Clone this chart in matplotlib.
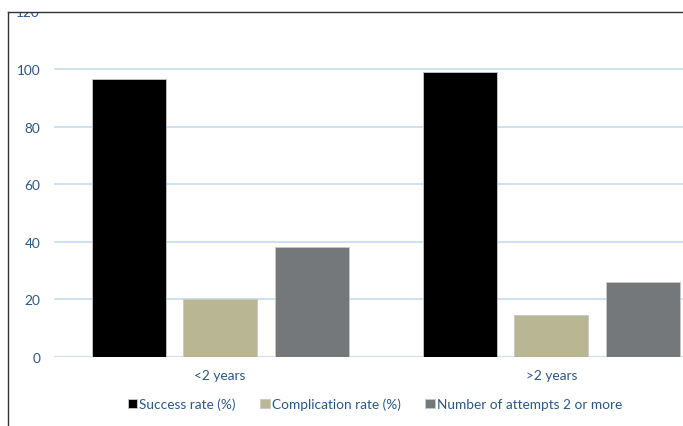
import matplotlib.pyplot as plt
import numpy as np
from matplotlib.patches import Rectangle

plt.rcParams['font.family'] = ['Lato', 'DejaVu Sans']

categories = ['<2 years', '>2 years']
series = ['Success rate (%)', 'Complication rate (%)', 'Number of attempts 2 or more']
success = [96.5, 99]
complication = [20, 14.6]
attempts = [38.2, 26]
colors = ['#000000', '#B9B693', '#75787B']
text_col = '#2B5788'

W, H = 683, 427
fig = plt.figure(figsize=(W / 100, H / 100), dpi=100)
ax = fig.add_axes([54 / W, 1 - 358 / H, (717 - 54) / W, (358 - 12.4) / H])

x = np.arange(len(categories))
width = 0.223
offs = [-0.275, 0, 0.277]
for vals, off, c, name in zip([success, complication, attempts], offs, colors, series):
    ax.bar(x + off, vals, width, color=c, edgecolor='#c8c8c8', linewidth=0.6,
           label=name, zorder=3)

ax.set_xlim(-0.5, 1.5)
ax.set_ylim(0, 120)
ax.set_yticks(range(0, 121, 20))
ax.yaxis.grid(True, color='#C6DAF0', linewidth=1.2, zorder=0)
ax.set_axisbelow(True)
for s in ax.spines.values():
    s.set_visible(False)
ax.tick_params(length=0, labelcolor=text_col, labelsize=9.8)
ax.tick_params(axis='y', pad=10)
ax.tick_params(axis='x', pad=9)
ax.set_xticks(x)
ax.set_xticklabels(categories)

fig.legend(loc='center', bbox_to_anchor=(375 / W, 1 - 405 / H), ncol=3, frameon=False,
           fontsize=9.8, labelcolor=text_col, handlelength=0.7, handleheight=0.7,
           handletextpad=0.15, columnspacing=1.8)

# crop-style mask and border
fig.patches.append(Rectangle((0, 1 - 13 / H), 1, 13 / H, transform=fig.transFigure,
                             facecolor='white', edgecolor='none', zorder=10))
fig.add_artist(plt.Line2D([8 / W, 1], [1 - 13 / H, 1 - 13 / H], color='#333333', lw=1, zorder=11))
fig.add_artist(plt.Line2D([8 / W, 8 / W], [0, 1 - 13 / H], color='#333333', lw=1, zorder=11))

fig.savefig('out.png', dpi=100)
